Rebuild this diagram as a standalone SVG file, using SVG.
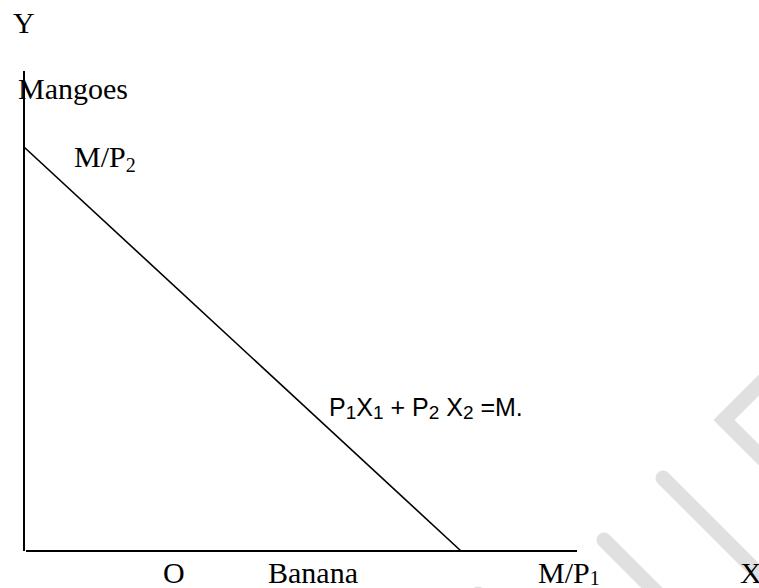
<svg xmlns="http://www.w3.org/2000/svg" width="759" height="588" viewBox="0 0 759 588">
  <style>
    .serif { font-family: "Liberation Serif", "Times New Roman", serif; font-size: 30px; fill: #000; }
    .sans { font-family: "Liberation Sans", Arial, sans-serif; font-size: 25px; fill: #000; }
    .axis { stroke: #000; stroke-width: 2; fill: none; }
    .budget { stroke: #000; stroke-width: 1.6; fill: none; }
    .wm { stroke: #e0e0e0; stroke-width: 15; stroke-linecap: round; stroke-linejoin: miter; fill: none; }
  </style>
  <rect width="759" height="588" fill="#fff"/>
  <g id="watermark">
    <polyline class="wm" points="775,369 724,420 775,471"/>
    <line class="wm" x1="663" y1="478" x2="790" y2="605"/>
    <line class="wm" x1="604" y1="540" x2="670" y2="606"/>
    <line class="wm" x1="478" y1="594" x2="500" y2="616"/>
  </g>
  <g id="connectors">
    <line id="y-axis" class="axis" x1="24" y1="71" x2="24" y2="551"/>
    <line id="x-axis" class="axis" x1="26" y1="551" x2="577" y2="551"/>
    <line id="budget-line" class="budget" x1="24" y1="147" x2="461" y2="551"/>
  </g>
  <g id="label-Y"><text class="serif" x="13" y="33">Y</text></g>
  <g id="label-mangoes"><text class="serif" x="18" y="99">Mangoes</text></g>
  <g id="label-MP2"><text class="serif" x="74" y="167">M/P<tspan font-size="20" dy="5">2</tspan></text></g>
  <g id="label-equation"><text class="sans" x="329" y="416">P<tspan font-size="19" dy="3">1</tspan><tspan dy="-3">X</tspan><tspan font-size="19" dy="3">1</tspan><tspan dy="-3"> + P</tspan><tspan font-size="19" dy="3">2</tspan><tspan dy="-3"> X</tspan><tspan font-size="19" dy="3">2</tspan><tspan dy="-3"> =M.</tspan></text></g>
  <g id="label-O"><text class="serif" x="163" y="583">O</text></g>
  <g id="label-banana"><text class="serif" x="268" y="583">Banana</text></g>
  <g id="label-MP1"><text class="serif" x="538" y="583">M/P<tspan font-size="20" dy="2">1</tspan></text></g>
  <g id="label-X"><text class="serif" x="740" y="583">X</text></g>
</svg>
